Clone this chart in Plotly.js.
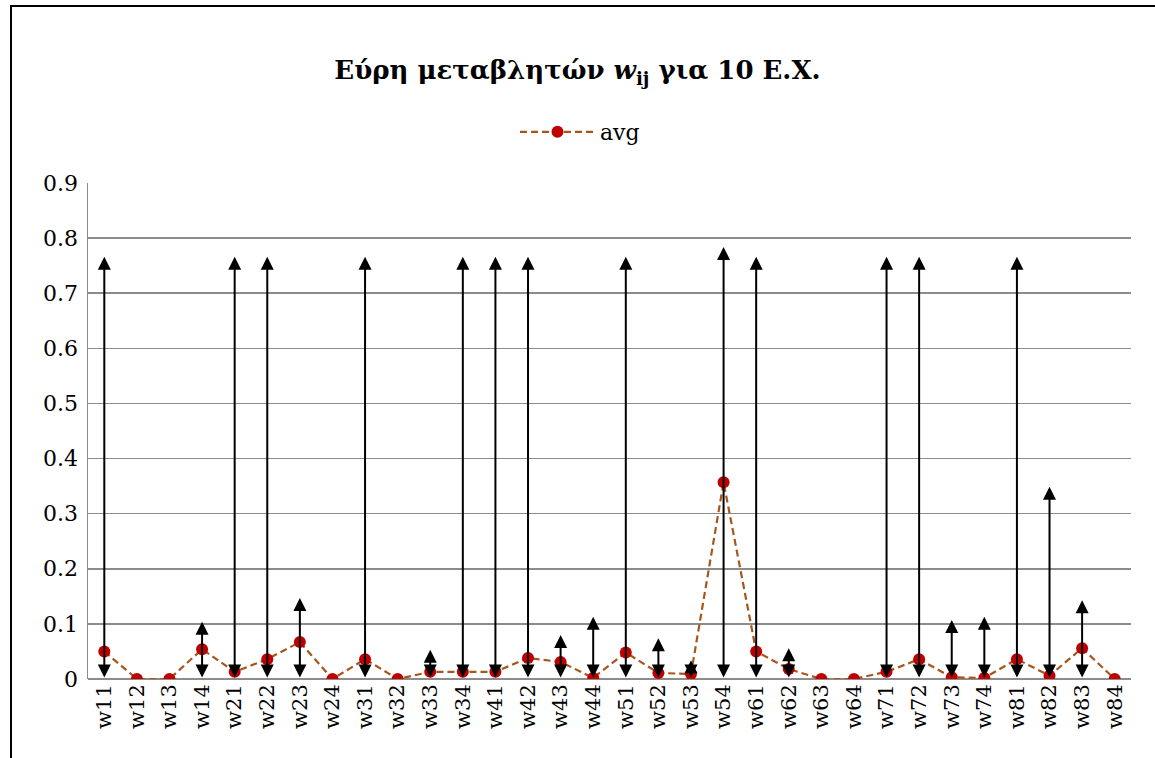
<!DOCTYPE html>
<html>
<head>
<meta charset="utf-8">
<script src="https://cdn.plot.ly/plotly-3.0.1.min.js"></script>
<style>
  html, body { margin: 0; padding: 0; background: #fff; }
  #wrap { position: relative; width: 1155px; height: 758px; overflow: hidden; }
  #chart { position: absolute; left: 0; top: 0; width: 1155px; height: 758px; }
  #frame { position: absolute; left: 10px; top: 5px; width: 1200px; height: 800px;
           border: 2px solid #000; pointer-events: none; box-sizing: border-box; }
</style>
</head>
<body>
<div id="wrap">
  <div id="chart"></div>
  <div id="frame"></div>
</div>
<script>
// Categories
const categories = ["w11","w12","w13","w14","w21","w22","w23","w24",
                    "w31","w32","w33","w34","w41","w42","w43","w44",
                    "w51","w52","w53","w54","w61","w62","w63","w64",
                    "w71","w72","w73","w74","w81","w82","w83","w84"];

// Average values (red markers)
const avgValues = [0.050,0.000,0.000,0.054,0.013,0.036,0.067,0.000,
                   0.036,0.000,0.013,0.013,0.013,0.038,0.031,0.002,
                   0.048,0.011,0.009,0.357,0.050,0.018,0.000,0.000,
                   0.013,0.036,0.003,0.002,0.036,0.006,0.056,0.000];

// Range minimum / maximum (double arrows); null = no arrow
const minValues = [0,null,null,0,0,0,0,null,
                   0,null,0,0,0,0,0,0,
                   0,0,0,0,0,0,null,null,
                   0,0,0,0,0,0,0,null];
const maxValues = [0.766,null,null,0.104,0.766,0.766,0.147,null,
                   0.766,null,0.053,0.766,0.766,0.766,0.080,0.113,
                   0.766,0.074,0.034,0.784,0.766,0.056,null,null,
                   0.766,0.766,0.107,0.113,0.766,0.349,0.143,null];

const yTickVals = [0,0.1,0.2,0.3,0.4,0.5,0.6,0.7,0.8,0.9];
const yTickText = ["0","0.1","0.2","0.3","0.4","0.5","0.6","0.7","0.8","0.9"];

const serif = "DejaVu Serif, Liberation Serif, serif";

const trace = {
  x: categories,
  y: avgValues,
  type: "scatter",
  mode: "lines+markers",
  name: "avg",
  line: { color: "#A5561C", width: 2.2, dash: "7px,4px" },
  marker: { color: "#C00000", size: 12 }
};

const annotations = [];
categories.forEach((c, i) => {
  if (maxValues[i] === null || minValues[i] === null) return;
  annotations.push({
    x: c, y: maxValues[i], xref: "x", yref: "y",
    ax: c, ay: minValues[i], axref: "x", ayref: "y",
    text: "", showarrow: true,
    arrowside: "end+start",
    arrowhead: 2, startarrowhead: 2,
    arrowsize: 1.3, startarrowsize: 1.3,
    arrowwidth: 2, arrowcolor: "#000",
    standoff: 0, startstandoff: 0
  });
});

const layout = {
  width: 1155, height: 758,
  paper_bgcolor: "#fff", plot_bgcolor: "#fff",
  margin: { l: 88, r: 24, t: 183, b: 79, pad: 0 },
  title: {
    text: "<b>Εύρη μεταβλητών <i>w</i><sub>ij</sub> για 10 Ε.Χ.</b>",
    font: { family: serif, size: 26, color: "#000" },
    x: 0.5, xanchor: "center",
    y: 1 - 70/758, yref: "container", yanchor: "middle"
  },
  showlegend: true,
  legend: {
    orientation: "h",
    x: (515 - 88) / 1043, xanchor: "left",
    y: 1 - 132/758, yref: "container", yanchor: "middle",
    itemwidth: 75,
    font: { family: serif, size: 22, color: "#000" },
    bgcolor: "rgba(0,0,0,0)"
  },
  xaxis: {
    type: "category",
    range: [-0.5, categories.length - 0.5],
    tickangle: -90,
    tickfont: { family: serif, size: 21, color: "#000" },
    showgrid: false,
    showline: false,
    ticks: "",
    zeroline: false
  },
  yaxis: {
    range: [0, 0.9],
    tickvals: yTickVals,
    ticktext: yTickText,
    tickfont: { family: serif, size: 22, color: "#000" },
    showgrid: true, gridcolor: "#8c8c8c", gridwidth: 1.5,
    showline: true, linecolor: "#8c8c8c", linewidth: 1.5,
    zeroline: true, zerolinecolor: "#8c8c8c", zerolinewidth: 1.5,
    ticks: "", ticklabelstandoff: 4
  },
  annotations: annotations
};

Plotly.newPlot("chart", [trace], layout, { displayModeBar: false, staticPlot: true });
</script>
</body>
</html>
